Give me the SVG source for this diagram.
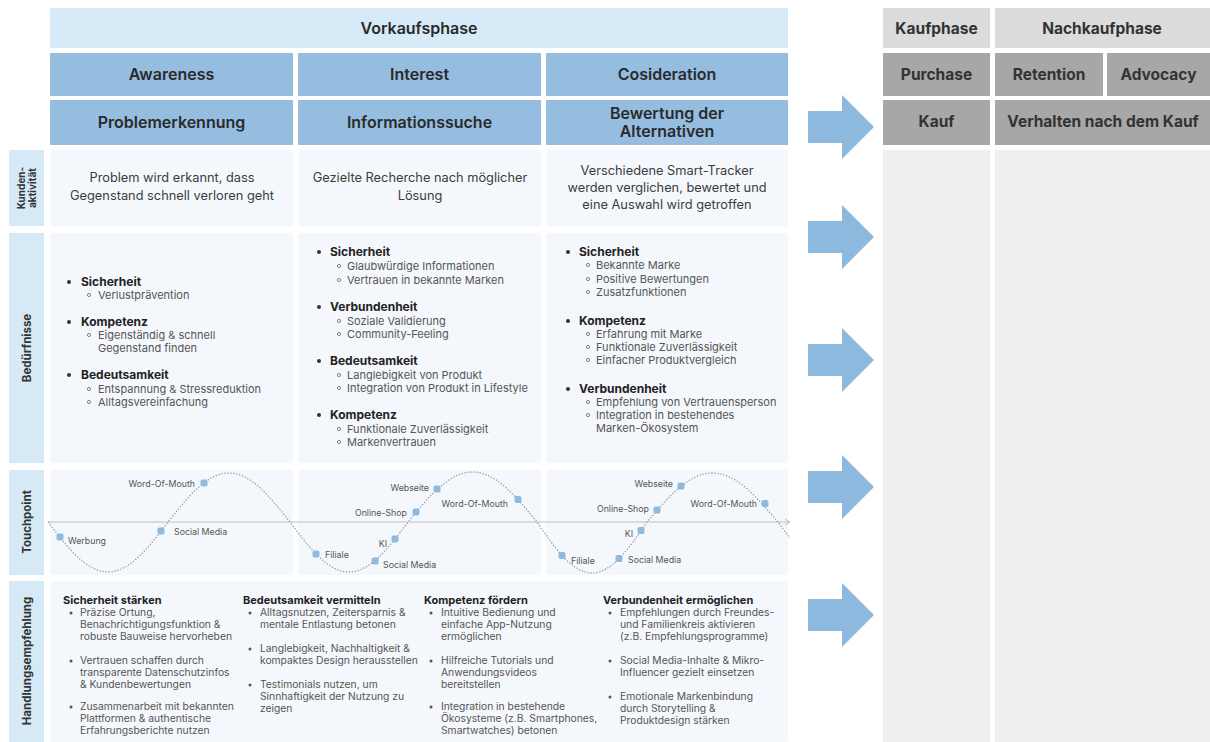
<svg xmlns="http://www.w3.org/2000/svg" width="1210" height="742" viewBox="0 0 1210 742">
<style>
text{font-family:Inter,"Noto Sans","Liberation Sans",sans-serif}
.bg{fill:#ffffff}
.band{fill:#d6eaf8}
.mid{fill:#95bde0}
.lab{fill:#d6e9f7}
.cell{fill:#f4f8fc}
.g1{fill:#dcdcdc}
.g2{fill:#a7a7a7}
.g3{fill:#efefef}
.hdr{font-weight:600;font-size:16px;fill:#2a2a2a;text-anchor:middle}
.rh{font-weight:700;font-size:15.5px;fill:#333;text-anchor:middle}
.act{font-size:12.8px;fill:#3c3c3c;text-anchor:middle}
.vl{font-weight:700;font-size:11.5px;fill:#333;text-anchor:middle}
.vs{font-weight:700;font-size:10px;fill:#333;text-anchor:middle}
.nb{font-weight:700;font-size:12px;fill:#222}
.ns{font-size:11px;fill:#555}
.tp{font-size:8.8px;fill:#555}
.hh{font-weight:700;font-size:11px;fill:#222}
.hb{font-size:10.3px;fill:#555}
.b1{fill:#333}
.b2{fill:none;stroke:#777;stroke-width:0.9}
.b3{fill:#555}
.dot{fill:#8fb9dd}
.arr{fill:#8db9de}
.wave{fill:none;stroke:#9a9a9a;stroke-width:1.3;stroke-dasharray:1.3 1.7}
.axis{fill:none;stroke:#bdbdbd;stroke-width:1}
</style>
<rect class="bg" x="0" y="0" width="1210" height="742"/>

<!-- Header left -->
<g id="vorkaufsphase"><rect class="band" x="50" y="8" width="738" height="40"/><text class="hdr" x="419" y="34">Vorkaufsphase</text></g>
<g id="awareness"><rect class="mid" x="50" y="53" width="243" height="43"/><text class="hdr" x="171.5" y="80">Awareness</text></g>
<g id="interest"><rect class="mid" x="298" y="53" width="243" height="43"/><text class="hdr" x="419.5" y="80">Interest</text></g>
<g id="cosideration"><rect class="mid" x="546" y="53" width="242" height="43"/><text class="hdr" x="667" y="80">Cosideration</text></g>
<g id="problemerkennung"><rect class="mid" x="50" y="100" width="243" height="45"/><text class="hdr" x="171.5" y="128">Problemerkennung</text></g>
<g id="informationssuche"><rect class="mid" x="298" y="100" width="243" height="45"/><text class="hdr" x="419.5" y="128">Informationssuche</text></g>
<g id="bewertung"><rect class="mid" x="546" y="100" width="242" height="45"/><text class="hdr" x="667" y="119">Bewertung der</text><text class="hdr" x="667" y="137">Alternativen</text></g>

<!-- Header right -->
<g id="kaufphase"><rect class="g1" x="883" y="8" width="107" height="40"/><text class="rh" x="936.5" y="34">Kaufphase</text></g>
<g id="nachkaufphase"><rect class="g1" x="995" y="8" width="215" height="40"/><text class="rh" x="1102" y="34">Nachkaufphase</text></g>
<g id="purchase"><rect class="g2" x="883" y="53" width="107" height="43"/><text class="rh" x="936.5" y="80">Purchase</text></g>
<g id="retention"><rect class="g2" x="995" y="53" width="108" height="43"/><text class="rh" x="1049" y="80">Retention</text></g>
<g id="advocacy"><rect class="g2" x="1107" y="53" width="103" height="43"/><text class="rh" x="1158.5" y="80">Advocacy</text></g>
<g id="kauf"><rect class="g2" x="883" y="100" width="107" height="45"/><text class="rh" x="936.5" y="127">Kauf</text></g>
<g id="verhalten"><rect class="g2" x="995" y="100" width="215" height="45"/><text class="rh" x="1103" y="127">Verhalten nach dem Kauf</text></g>
<g id="kauf-col"><rect class="g3" x="883" y="150" width="107" height="592"/></g>
<g id="nachkauf-col"><rect class="g3" x="995" y="150" width="215" height="592"/></g>

<!-- Row labels -->
<g id="label-kunden"><rect class="lab" x="9" y="150" width="35" height="76"/><text class="vs" transform="translate(25 188) rotate(-90)">Kunden-</text><text class="vs" transform="translate(36 188) rotate(-90)">aktivität</text></g>
<g id="label-beduerfnisse"><rect class="lab" x="9" y="233" width="35" height="230"/><text class="vl" transform="translate(31 348) rotate(-90)">Bedürfnisse</text></g>
<g id="label-touchpoint"><rect class="lab" x="9" y="470" width="35" height="105"/><text class="vl" transform="translate(31 522) rotate(-90)">Touchpoint</text></g>
<g id="label-handlung"><rect class="lab" x="9" y="581" width="35" height="161"/><text class="vl" transform="translate(31 661) rotate(-90)">Handlungsempfehlung</text></g>

<!-- Kundenaktivität -->
<g id="kunden-1"><rect class="cell" x="50" y="150" width="243" height="76" rx="3"/><text class="act" x="172" y="182">Problem wird erkannt, dass</text><text class="act" x="172" y="200">Gegenstand schnell verloren geht</text></g>
<g id="kunden-2"><rect class="cell" x="298" y="150" width="243" height="76" rx="3"/><text class="act" x="420" y="182">Gezielte Recherche nach möglicher</text><text class="act" x="420" y="200">Lösung</text></g>
<g id="kunden-3"><rect class="cell" x="546" y="150" width="242" height="76" rx="3"/><text class="act" x="667" y="175">Verschiedene Smart-Tracker</text><text class="act" x="667" y="192">werden verglichen, bewertet und</text><text class="act" x="667" y="209">eine Auswahl wird getroffen</text></g>

<!-- Bedürfnisse -->
<g id="beduerfnisse-1"><rect class="cell" x="50" y="233" width="243" height="230" rx="3"/>
<circle class="b1" cx="69" cy="282" r="2"/><text class="nb" x="81" y="286">Sicherheit</text>
<circle class="b2" cx="89" cy="295" r="1.6"/><text class="ns" x="98" y="299">Verlustprävention</text>
<circle class="b1" cx="69" cy="322" r="2"/><text class="nb" x="81" y="326">Kompetenz</text>
<circle class="b2" cx="89" cy="335" r="1.6"/><text class="ns" x="98" y="339">Eigenständig &amp; schnell</text>
<text class="ns" x="98" y="352">Gegenstand finden</text>
<circle class="b1" cx="69" cy="375" r="2"/><text class="nb" x="81" y="379">Bedeutsamkeit</text>
<circle class="b2" cx="89" cy="389" r="1.6"/><text class="ns" x="98" y="393">Entspannung &amp; Stressreduktion</text>
<circle class="b2" cx="89" cy="402" r="1.6"/><text class="ns" x="98" y="406">Alltagsvereinfachung</text>
</g>
<g id="beduerfnisse-2"><rect class="cell" x="298" y="233" width="243" height="230" rx="3"/>
<circle class="b1" cx="319" cy="252" r="2"/><text class="nb" x="330" y="256">Sicherheit</text>
<circle class="b2" cx="339" cy="266" r="1.6"/><text class="ns" x="347" y="270">Glaubwürdige Informationen</text>
<circle class="b2" cx="339" cy="280" r="1.6"/><text class="ns" x="347" y="284">Vertrauen in bekannte Marken</text>
<circle class="b1" cx="319" cy="307" r="2"/><text class="nb" x="330" y="311">Verbundenheit</text>
<circle class="b2" cx="339" cy="321" r="1.6"/><text class="ns" x="347" y="325">Soziale Validierung</text>
<circle class="b2" cx="339" cy="334" r="1.6"/><text class="ns" x="347" y="338">Community-Feeling</text>
<circle class="b1" cx="319" cy="361" r="2"/><text class="nb" x="330" y="365">Bedeutsamkeit</text>
<circle class="b2" cx="339" cy="375" r="1.6"/><text class="ns" x="347" y="379">Langlebigkeit von Produkt</text>
<circle class="b2" cx="339" cy="388" r="1.6"/><text class="ns" x="347" y="392">Integration von Produkt in Lifestyle</text>
<circle class="b1" cx="319" cy="415" r="2"/><text class="nb" x="330" y="419">Kompetenz</text>
<circle class="b2" cx="339" cy="429" r="1.6"/><text class="ns" x="347" y="433">Funktionale Zuverlässigkeit</text>
<circle class="b2" cx="339" cy="442" r="1.6"/><text class="ns" x="347" y="446">Markenvertrauen</text>
</g>
<g id="beduerfnisse-3"><rect class="cell" x="546" y="233" width="242" height="230" rx="3"/>
<circle class="b1" cx="568" cy="252" r="2"/><text class="nb" x="579" y="256">Sicherheit</text>
<circle class="b2" cx="588" cy="265" r="1.6"/><text class="ns" x="596" y="269">Bekannte Marke</text>
<circle class="b2" cx="588" cy="279" r="1.6"/><text class="ns" x="596" y="283">Positive Bewertungen</text>
<circle class="b2" cx="588" cy="292" r="1.6"/><text class="ns" x="596" y="296">Zusatzfunktionen</text>
<circle class="b1" cx="568" cy="321" r="2"/><text class="nb" x="579" y="325">Kompetenz</text>
<circle class="b2" cx="588" cy="334" r="1.6"/><text class="ns" x="596" y="338">Erfahrung mit Marke</text>
<circle class="b2" cx="588" cy="347" r="1.6"/><text class="ns" x="596" y="351">Funktionale Zuverlässigkeit</text>
<circle class="b2" cx="588" cy="360" r="1.6"/><text class="ns" x="596" y="364">Einfacher Produktvergleich</text>
<circle class="b1" cx="568" cy="389" r="2"/><text class="nb" x="579" y="393">Verbundenheit</text>
<circle class="b2" cx="588" cy="402" r="1.6"/><text class="ns" x="596" y="406">Empfehlung von Vertrauensperson</text>
<circle class="b2" cx="588" cy="415" r="1.6"/><text class="ns" x="596" y="419">Integration in bestehendes</text>
<text class="ns" x="596" y="432">Marken-Ökosystem</text>
</g>

<!-- Touchpoint cells -->
<g id="touch-1"><rect class="cell" x="50" y="470" width="243" height="105" rx="3"/></g>
<g id="touch-2"><rect class="cell" x="298" y="470" width="243" height="105" rx="3"/></g>
<g id="touch-3"><rect class="cell" x="546" y="470" width="242" height="105" rx="3"/></g>
<g id="touch-curve">
<path class="axis" d="M48 522 H790 M785 519 L790 522 L785 525"/>
<path class="wave" d="M48 522 C67.6 547.6 86.3 572 108 572 C129.7 572 148.4 547.6 168 522 C187.9 496.9 206.9 473 229 473 C251.1 473 270.1 496.9 290 522 C309.2 547.6 327.6 572 349 572 C370.4 572 388.8 547.6 408 522 C429 496.4 449.2 472 472.5 472 C495.8 472 516 496.4 537 522 C554.9 548.1 572.1 573 592 573 C611.9 573 629.1 548.1 647 522 C668.4 496.9 688.8 473 712.5 473 C736.2 473 756.6 496.9 778 522 C782 527 786 533 790 538"/>
<g id="tp-werbung"><rect class="dot" x="56.5" y="533.5" width="7" height="7" rx="2"/><text class="tp" x="68" y="544">Werbung</text></g>
<g id="tp-social-1"><rect class="dot" x="157.5" y="527.5" width="7" height="7" rx="2"/><text class="tp" x="174" y="535">Social Media</text></g>
<g id="tp-wom-1"><rect class="dot" x="200.5" y="479.5" width="7" height="7" rx="2"/><text class="tp" x="195" y="487" text-anchor="end">Word-Of-Mouth</text></g>
<g id="tp-filiale-2"><rect class="dot" x="312.5" y="550.5" width="7" height="7" rx="2"/><text class="tp" x="325" y="558">Filiale</text></g>
<g id="tp-social-2"><rect class="dot" x="371.5" y="557.5" width="7" height="7" rx="2"/><text class="tp" x="383" y="568">Social Media</text></g>
<g id="tp-ki-2"><rect class="dot" x="391.5" y="535.5" width="7" height="7" rx="2"/><text class="tp" x="387" y="547" text-anchor="end">KI</text></g>
<g id="tp-shop-2"><rect class="dot" x="412.5" y="508.5" width="7" height="7" rx="2"/><text class="tp" x="407" y="516" text-anchor="end">Online-Shop</text></g>
<g id="tp-web-2"><rect class="dot" x="433.5" y="485.5" width="7" height="7" rx="2"/><text class="tp" x="429" y="491" text-anchor="end">Webseite</text></g>
<g id="tp-wom-2"><rect class="dot" x="514.5" y="496" width="7" height="7" rx="2"/><text class="tp" x="508" y="507" text-anchor="end">Word-Of-Mouth</text></g>
<g id="tp-filiale-3"><rect class="dot" x="558.5" y="552" width="7" height="7" rx="2"/><text class="tp" x="571" y="564">Filiale</text></g>
<g id="tp-social-3"><rect class="dot" x="615.5" y="555" width="7" height="7" rx="2"/><text class="tp" x="628" y="563">Social Media</text></g>
<g id="tp-ki-3"><rect class="dot" x="637.5" y="527" width="7" height="7" rx="2"/><text class="tp" x="633" y="537" text-anchor="end">KI</text></g>
<g id="tp-shop-3"><rect class="dot" x="653.5" y="506.5" width="7" height="7" rx="2"/><text class="tp" x="649" y="512" text-anchor="end">Online-Shop</text></g>
<g id="tp-web-3"><rect class="dot" x="677.5" y="482.5" width="7" height="7" rx="2"/><text class="tp" x="673" y="487" text-anchor="end">Webseite</text></g>
<g id="tp-wom-3"><rect class="dot" x="761.5" y="500" width="7" height="7" rx="2"/><text class="tp" x="757" y="507" text-anchor="end">Word-Of-Mouth</text></g>
</g>

<!-- Handlungsempfehlung -->
<g id="handlung"><rect class="cell" x="50" y="581" width="738" height="161" rx="3"/>
<g id="h-sicherheit">
<text class="hh" x="63" y="604">Sicherheit stärken</text>
<circle class="b3" cx="71" cy="613" r="1.5"/><text class="hb" x="80" y="616">Präzise Ortung,</text>
<text class="hb" x="80" y="628">Benachrichtigungsfunktion &amp;</text>
<text class="hb" x="80" y="640">robuste Bauweise hervorheben</text>
<circle class="b3" cx="71" cy="661" r="1.5"/><text class="hb" x="80" y="664">Vertrauen schaffen durch</text>
<text class="hb" x="80" y="676">transparente Datenschutzinfos</text>
<text class="hb" x="80" y="688">&amp; Kundenbewertungen</text>
<circle class="b3" cx="71" cy="707" r="1.5"/><text class="hb" x="80" y="710">Zusammenarbeit mit bekannten</text>
<text class="hb" x="80" y="722">Plattformen &amp; authentische</text>
<text class="hb" x="80" y="734">Erfahrungsberichte nutzen</text>
</g>
<g id="h-bedeutsamkeit">
<text class="hh" x="243" y="604">Bedeutsamkeit vermitteln</text>
<circle class="b3" cx="250" cy="613" r="1.5"/><text class="hb" x="260" y="616">Alltagsnutzen, Zeitersparnis &amp;</text>
<text class="hb" x="260" y="628">mentale Entlastung betonen</text>
<circle class="b3" cx="250" cy="649" r="1.5"/><text class="hb" x="260" y="652">Langlebigkeit, Nachhaltigkeit &amp;</text>
<text class="hb" x="260" y="664">kompaktes Design herausstellen</text>
<circle class="b3" cx="250" cy="685" r="1.5"/><text class="hb" x="260" y="688">Testimonials nutzen, um</text>
<text class="hb" x="260" y="700">Sinnhaftigkeit der Nutzung zu</text>
<text class="hb" x="260" y="712">zeigen</text>
</g>
<g id="h-kompetenz">
<text class="hh" x="424" y="604">Kompetenz fördern</text>
<circle class="b3" cx="431" cy="613" r="1.5"/><text class="hb" x="441" y="616">Intuitive Bedienung und</text>
<text class="hb" x="441" y="628">einfache App-Nutzung</text>
<text class="hb" x="441" y="640">ermöglichen</text>
<circle class="b3" cx="431" cy="661" r="1.5"/><text class="hb" x="441" y="664">Hilfreiche Tutorials und</text>
<text class="hb" x="441" y="676">Anwendungsvideos</text>
<text class="hb" x="441" y="688">bereitstellen</text>
<circle class="b3" cx="431" cy="707" r="1.5"/><text class="hb" x="441" y="710">Integration in bestehende</text>
<text class="hb" x="441" y="722">Ökosysteme (z.B. Smartphones,</text>
<text class="hb" x="441" y="734">Smartwatches) betonen</text>
</g>
<g id="h-verbundenheit">
<text class="hh" x="603" y="604">Verbundenheit ermöglichen</text>
<circle class="b3" cx="610" cy="613" r="1.5"/><text class="hb" x="620" y="616">Empfehlungen durch Freundes-</text>
<text class="hb" x="620" y="628">und Familienkreis aktivieren</text>
<text class="hb" x="620" y="640">(z.B. Empfehlungsprogramme)</text>
<circle class="b3" cx="610" cy="661" r="1.5"/><text class="hb" x="620" y="664">Social Media-Inhalte &amp; Mikro-</text>
<text class="hb" x="620" y="676">Influencer gezielt einsetzen</text>
<circle class="b3" cx="610" cy="697" r="1.5"/><text class="hb" x="620" y="700">Emotionale Markenbindung</text>
<text class="hb" x="620" y="712">durch Storytelling &amp;</text>
<text class="hb" x="620" y="724">Produktdesign stärken</text>
</g>
</g>

<!-- Connectors: block arrows -->
<g id="connectors">
<path class="arr" d="M808 111 H842 V95 L874 127 L842 159 V143 H808 Z"/>
<path class="arr" d="M808 221 H842 V205 L874 237 L842 269 V253 H808 Z"/>
<path class="arr" d="M808 344 H842 V328 L874 360 L842 392 V376 H808 Z"/>
<path class="arr" d="M808 471 H842 V455 L874 487 L842 519 V503 H808 Z"/>
<path class="arr" d="M808 599 H842 V583 L874 615 L842 647 V631 H808 Z"/>
</g>
</svg>
